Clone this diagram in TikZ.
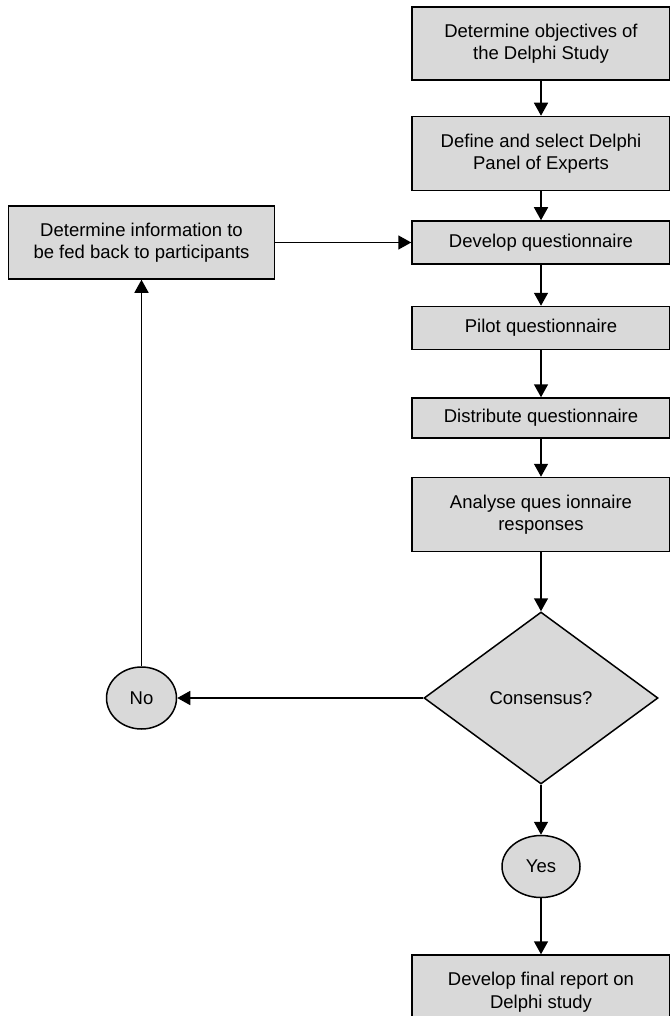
\documentclass[tikz,border=0pt]{standalone}
\usepackage{fontspec}
\setmainfont{Liberation Sans}
\usetikzlibrary{shapes.geometric,arrows.meta,positioning}
\definecolor{boxgray}{RGB}{217,217,217}

\begin{document}
\begin{tikzpicture}[
    font=\fontsize{18.5}{22.5}\selectfont,
    node distance=0mm,
    field/.style={draw, fill=boxgray, minimum width=258pt, minimum height=73pt, align=center, inner sep=2pt, line width=1.5pt},
    ans/.style={draw, ellipse, fill=boxgray, minimum width=70pt, minimum height=62pt, inner sep=0pt, line width=1.5pt},
    decide/.style={draw, diamond, fill=boxgray, minimum width=234pt, minimum height=172pt, inner sep=0pt, line width=1.5pt},
    flow/.style={-{Triangle[length=13pt, width=14pt]}, line width=1.5pt}
]
\useasboundingbox (0,0) rectangle (669pt,-1016pt);

\node[field] (obj) at (541pt,-43.5pt) {Determine objectives of\\the Delphi Study};
\node[field, minimum height=74pt, below=35pt of obj] (panel) {Define and select Delphi\\Panel of Experts};
\node[field, minimum height=43pt, below=29pt of panel] (dev) {Develop questionnaire};
\node[field, minimum height=43pt, below=41pt of dev] (pilot) {Pilot questionnaire};
\node[field, minimum height=40pt, below=47pt of pilot] (dist) {Distribute questionnaire};
\node[field, minimum height=74pt, below=38pt of dist] (ana) {Analyse ques ionnaire\\responses};
\node[decide, below=59pt of ana] (cons) {Consensus?};
\node[ans, minimum width=78pt, below=50pt of cons] (yes) {Yes};
\node[field, minimum height=74pt, below=56pt of yes] (rep) {Develop final report on\\Delphi study};

\node[field, minimum width=266pt, left=136pt of dev] (fb) {Determine information to\\be fed back to participants};
\node[ans] (no) at (fb |- cons) {No};

\foreach \a/\b in {obj/panel, panel/dev, dev/pilot, pilot/dist, dist/ana, ana/cons, cons/yes, yes/rep}
  \draw[flow] (\a.south) -- (\b.north);
\draw[flow] (cons.west) -- (no.east);
\draw[flow] (no.north) -- (fb.south);
\draw[flow] (fb.east) -- (dev.west);
\end{tikzpicture}
\end{document}
